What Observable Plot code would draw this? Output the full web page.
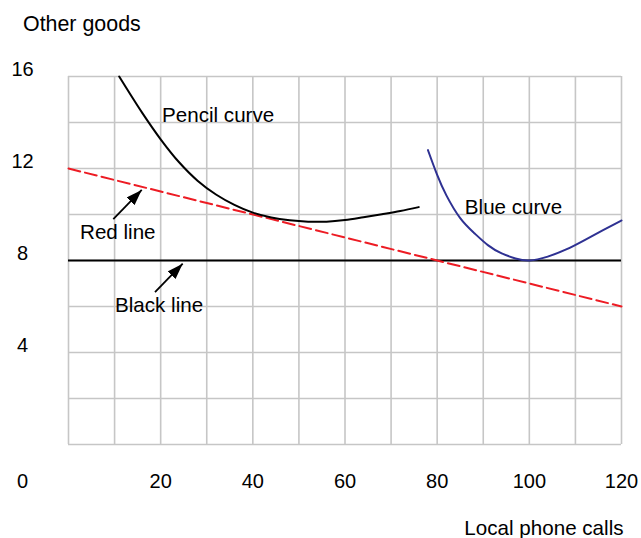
<!DOCTYPE html>
<html><head><meta charset="utf-8">
<script src="https://cdn.jsdelivr.net/npm/d3@7"></script>
<script src="https://cdn.jsdelivr.net/npm/@observablehq/plot@0.6"></script>
<style>body{margin:0;background:#fff} svg{display:block}</style>
</head><body><div id="chart"></div>
<script>
// Pencil curve
const pencilX = [11, 16, 20, 24, 28, 32, 36, 40, 44, 48, 52, 56, 60, 64, 68, 72, 76];
const pencilY = [16, 14.42, 13.27, 12.27, 11.47, 10.87, 10.42, 10.08, 9.87, 9.75, 9.69, 9.69, 9.76, 9.88, 10.01, 10.15, 10.32];
// Blue curve
const blueX = [78, 80, 82, 85, 88, 91, 94, 97, 100, 104, 108, 112, 116, 120];
const blueY = [12.8, 11.72, 10.83, 9.84, 9.2, 8.67, 8.31, 8.09, 8.0, 8.17, 8.48, 8.89, 9.32, 9.74];
// Red dashed line endpoints
const redX = [0, 120];
const redY = [12, 6];
// Black horizontal line
const blackY = 8;
// Tick labels
const xTicks = [20, 40, 60, 80, 100, 120];
const yTicks = [4, 8, 12, 16];
const gridXValues = [0, 10, 20, 30, 40, 50, 60, 70, 80, 90, 100, 110, 120];
const gridYValues = [0, 2, 4, 6, 8, 10, 12, 14, 16];
// Annotations
const labelText = ["Pencil curve", "Blue curve", "Red line", "Black line"];
const labelX = [20.3, 86.0, 2.5, 10.1];
const labelY = [14.3, 10.33, 9.23, 6.04];
const arrowX1 = [9.72, 18.77];
const arrowY1 = [9.8, 6.62];
const arrowX2 = [15.89, 24.78];
const arrowY2 = [11.07, 7.86];

const pencil = pencilX.map((x, i) => ({x, y: pencilY[i]}));
const blue = blueX.map((x, i) => ({x, y: blueY[i]}));
const red = redX.map((x, i) => ({x, y: redY[i]}));
const labels = labelText.map((t, i) => ({t, x: labelX[i], y: labelY[i]}));
const arrows = arrowX1.map((x1, i) => ({x1, y1: arrowY1[i], x2: arrowX2[i], y2: arrowY2[i]}));

const FONT = "Liberation Sans, Arial, sans-serif";
const FS = 20.6;
const FSN = 20;
const gridColor = "#c6c6c6";

const chart = Plot.plot({
  width: 641,
  height: 538,
  marginLeft: 68,
  marginRight: 20,
  marginTop: 76,
  marginBottom: 94,
  style: {fontFamily: FONT, fontSize: FS + "px", background: "#fff", color: "#000"},
  x: {domain: [0, 120]},
  y: {domain: [0, 16]},
  marks: [
    Plot.ruleX(gridXValues, {stroke: gridColor, strokeWidth: 1.6}),
    Plot.ruleY(gridYValues, {stroke: gridColor, strokeWidth: 1.6}),
    Plot.ruleY([blackY], {stroke: "#000", strokeWidth: 2}),
    Plot.line(red, {x: "x", y: "y", stroke: "#ed1c24", strokeWidth: 2, strokeDasharray: "12,5"}),
    Plot.line(pencil, {x: "x", y: "y", curve: "catmull-rom", stroke: "#000", strokeWidth: 2}),
    Plot.line(blue, {x: "x", y: "y", curve: "natural", stroke: "#2e3192", strokeWidth: 2}),
    Plot.link(arrows, {x1: "x1", y1: "y1", x2: "x2", y2: "y2", stroke: "#000", strokeWidth: 1.8}),
    Plot.text(labels, {x: "x", y: "y", text: "t", textAnchor: "start", fontSize: FS, fill: "#000"}),
    Plot.axisX({ticks: xTicks, tickSize: 0, tickPadding: 29, label: null, fontSize: FSN}),
    Plot.axisY({ticks: yTicks, tickSize: 0, tickPadding: 46, textAnchor: "middle", dy: -7, label: null, fontSize: FSN}),
    Plot.text(["0"], {text: d => d, frameAnchor: "bottom-left", dx: -46, dy: 29, lineAnchor: "top", textAnchor: "middle", fontSize: FSN}),
    Plot.text(["Other goods"], {text: d => d, frameAnchor: "top-left", dx: -45.5, dy: -61, lineAnchor: "top", textAnchor: "start", fontSize: 21.4}),
    Plot.text(["Local phone calls"], {text: d => d, frameAnchor: "bottom-right", dx: 2, dy: 76, lineAnchor: "top", textAnchor: "end", fontSize: FS})
  ]
});

// filled arrowheads
const s = d3.select(chart);
const defs = s.insert("defs", ":first-child");
defs.append("marker")
  .attr("id", "ah")
  .attr("viewBox", "0 0 16 11")
  .attr("refX", 16).attr("refY", 5.5)
  .attr("markerWidth", 16).attr("markerHeight", 11)
  .attr("markerUnits", "userSpaceOnUse")
  .attr("orient", "auto")
  .append("path").attr("d", "M0,0L16,5.5L0,11Z").attr("fill", "#000");
s.selectAll('g[aria-label="link"] path').attr("marker-end", "url(#ah)");

document.getElementById("chart").appendChild(chart);
</script>
</body></html>
